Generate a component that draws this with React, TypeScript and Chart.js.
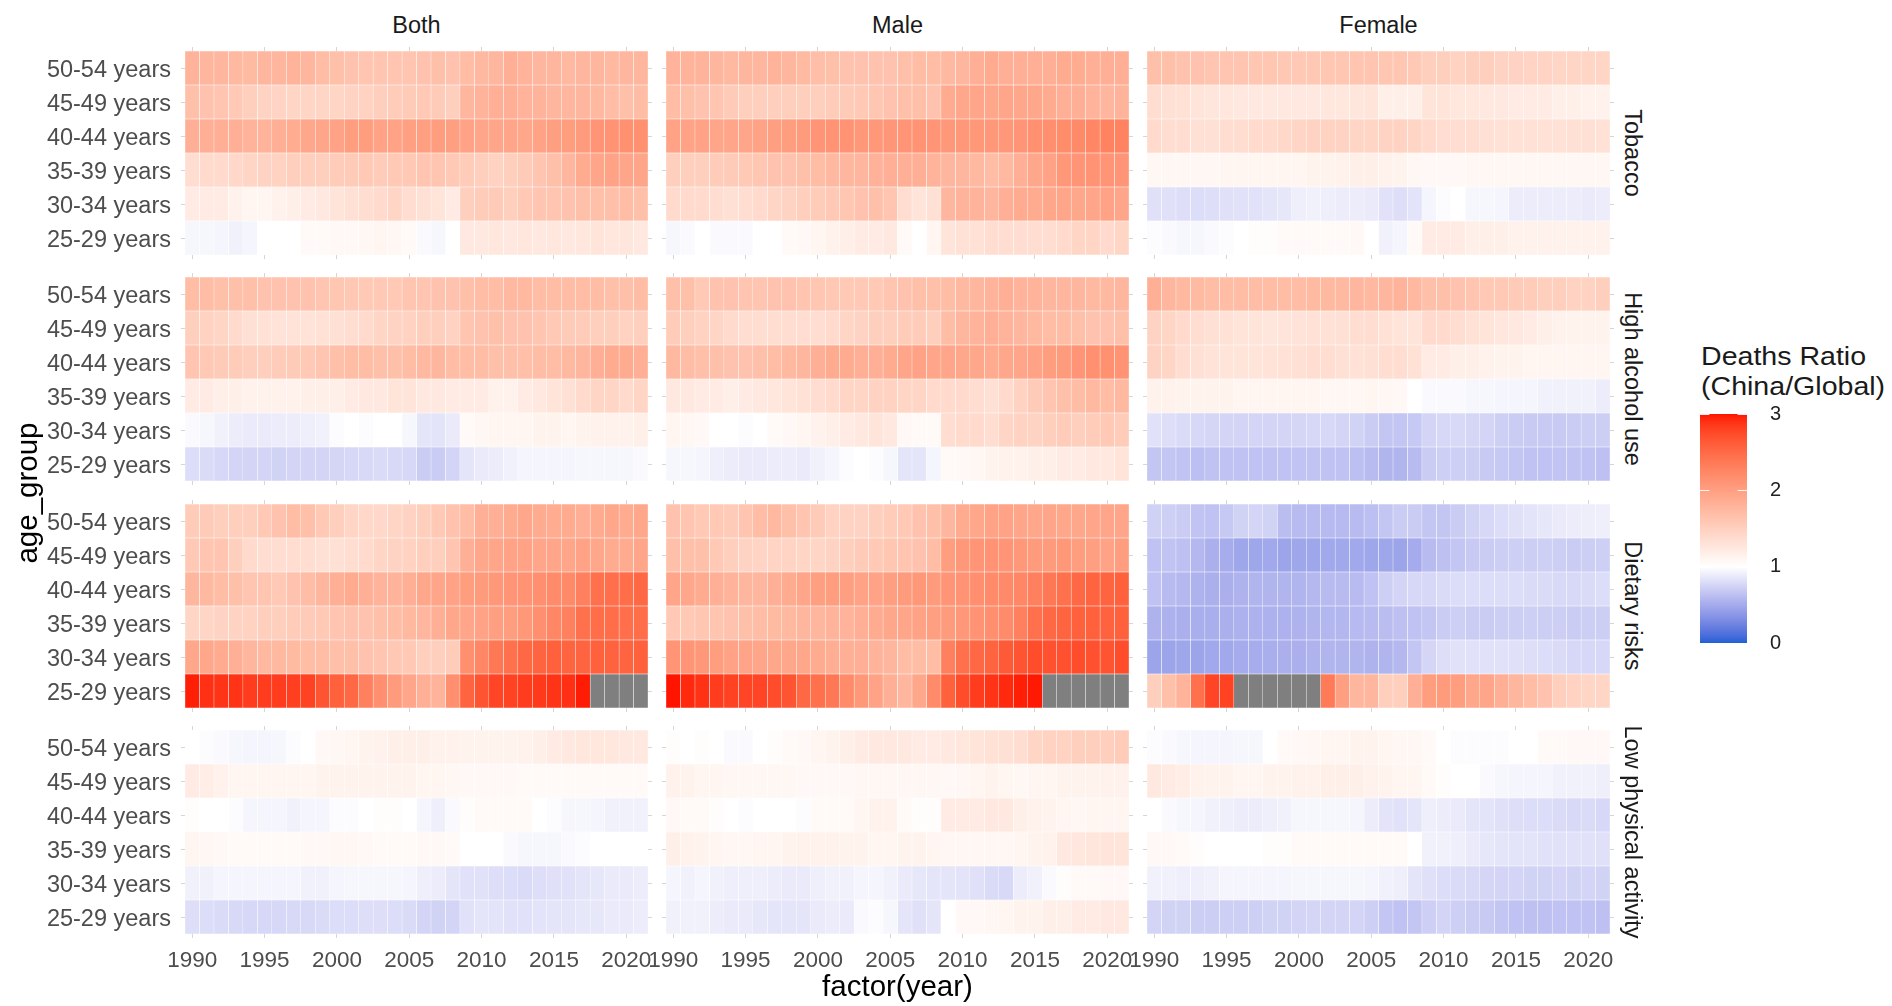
import React, { useEffect, useRef } from "react";
import { Chart, registerables } from "chart.js";

Chart.register(...registerables);

// ---------------- data ----------------
const years = [1990, 1991, 1992, 1993, 1994, 1995, 1996, 1997, 1998, 1999, 2000, 2001, 2002, 2003, 2004, 2005,
  2006, 2007, 2008, 2009, 2010, 2011, 2012, 2013, 2014, 2015, 2016, 2017, 2018, 2019, 2020, 2021];
const yearTicks = [1990, 1995, 2000, 2005, 2010, 2015, 2020];
const ageGroups = ["50-54 years", "45-49 years", "40-44 years", "35-39 years", "30-34 years", "25-29 years"];
const sexes = ["Both", "Male", "Female"];
const factors = ["Tobacco", "High alcohol use", "Dietary risks", "Low physical activity"];
const legendTicks = [0, 1, 2, 3];

type Row = (number | null)[];

const tobaccoBoth: Row[] = [
  [1.8, 1.77, 1.77, 1.74, 1.73, 1.77, 1.77, 1.8, 1.77, 1.7, 1.67, 1.64, 1.61, 1.61, 1.61, 1.61, 1.64, 1.67, 1.64, 1.7, 1.74, 1.77, 1.84, 1.8, 1.77, 1.77, 1.74, 1.77, 1.77, 1.74, 1.77, 1.77],
  [1.67, 1.64, 1.61, 1.57, 1.51, 1.47, 1.46, 1.44, 1.44, 1.44, 1.44, 1.47, 1.48, 1.51, 1.54, 1.55, 1.57, 1.55, 1.51, 1.77, 1.8, 1.84, 1.84, 1.8, 1.8, 1.77, 1.77, 1.77, 1.74, 1.7, 1.67, 1.7],
  [1.84, 1.84, 1.84, 1.84, 1.8, 1.8, 1.84, 1.87, 1.92, 1.94, 1.97, 2.02, 2.02, 1.97, 1.97, 1.99, 2.0, 2.02, 2.0, 1.97, 1.94, 1.94, 1.94, 1.92, 1.97, 2.0, 2.02, 2.04, 2.1, 2.12, 2.14, 2.14],
  [1.36, 1.39, 1.39, 1.41, 1.44, 1.47, 1.48, 1.51, 1.51, 1.51, 1.54, 1.55, 1.57, 1.54, 1.57, 1.57, 1.61, 1.61, 1.57, 1.54, 1.51, 1.48, 1.51, 1.55, 1.61, 1.67, 1.77, 1.88, 1.94, 1.97, 1.94, 1.94],
  [1.21, 1.21, 1.21, 1.15, 1.11, 1.11, 1.15, 1.17, 1.21, 1.24, 1.29, 1.33, 1.36, 1.39, 1.44, 1.36, 1.33, 1.29, 1.21, 1.51, 1.54, 1.55, 1.51, 1.57, 1.61, 1.61, 1.64, 1.67, 1.67, 1.67, 1.7, 1.67],
  [0.95, 0.95, 0.94, 0.92, 0.94, 1.0, 1.0, 1.0, 1.05, 1.05, 1.07, 1.07, 1.09, 1.11, 1.09, 1.05, 0.97, 0.95, 1.0, 1.24, 1.24, 1.26, 1.24, 1.26, 1.24, 1.26, 1.24, 1.26, 1.29, 1.26, 1.27, 1.24],
];
const tobaccoMale: Row[] = [
  [1.8, 1.8, 1.8, 1.77, 1.74, 1.77, 1.77, 1.8, 1.77, 1.73, 1.69, 1.67, 1.64, 1.64, 1.64, 1.64, 1.67, 1.7, 1.7, 1.74, 1.77, 1.84, 1.88, 1.84, 1.84, 1.84, 1.84, 1.88, 1.87, 1.84, 1.84, 1.84],
  [1.7, 1.67, 1.64, 1.61, 1.55, 1.51, 1.51, 1.51, 1.51, 1.51, 1.51, 1.54, 1.55, 1.57, 1.6, 1.64, 1.67, 1.67, 1.64, 1.88, 1.92, 1.94, 1.92, 1.94, 1.92, 1.92, 1.88, 1.84, 1.84, 1.8, 1.77, 1.8],
  [1.97, 1.97, 1.97, 1.94, 1.94, 1.94, 1.97, 2.0, 2.02, 2.04, 2.1, 2.12, 2.12, 2.07, 2.07, 2.09, 2.1, 2.12, 2.1, 2.07, 2.07, 2.07, 2.07, 2.07, 2.1, 2.14, 2.16, 2.18, 2.21, 2.24, 2.28, 2.28],
  [1.51, 1.51, 1.51, 1.54, 1.55, 1.57, 1.6, 1.64, 1.64, 1.67, 1.7, 1.74, 1.77, 1.77, 1.81, 1.84, 1.84, 1.84, 1.8, 1.77, 1.77, 1.74, 1.7, 1.74, 1.84, 1.92, 1.97, 2.07, 2.1, 2.12, 2.1, 2.1],
  [1.39, 1.39, 1.39, 1.36, 1.33, 1.36, 1.39, 1.44, 1.47, 1.51, 1.54, 1.57, 1.6, 1.64, 1.67, 1.61, 1.36, 1.29, 1.33, 1.77, 1.8, 1.8, 1.77, 1.84, 1.88, 1.88, 1.92, 1.94, 1.92, 1.94, 1.97, 1.94],
  [0.95, 0.97, 1.0, 0.97, 0.97, 0.97, 1.0, 1.0, 1.05, 1.07, 1.11, 1.15, 1.17, 1.21, 1.21, 1.24, 1.05, 1.0, 1.11, 1.29, 1.32, 1.32, 1.36, 1.36, 1.36, 1.36, 1.36, 1.39, 1.44, 1.44, 1.39, 1.44],
];
const tobaccoFemale: Row[] = [
  [1.67, 1.67, 1.64, 1.64, 1.61, 1.61, 1.61, 1.6, 1.6, 1.58, 1.57, 1.58, 1.6, 1.6, 1.61, 1.61, 1.6, 1.6, 1.57, 1.51, 1.51, 1.48, 1.51, 1.51, 1.47, 1.47, 1.46, 1.46, 1.44, 1.44, 1.44, 1.44],
  [1.36, 1.33, 1.32, 1.29, 1.27, 1.26, 1.24, 1.24, 1.24, 1.24, 1.24, 1.24, 1.26, 1.26, 1.27, 1.29, 1.17, 1.17, 1.17, 1.29, 1.29, 1.26, 1.26, 1.24, 1.24, 1.21, 1.21, 1.21, 1.17, 1.17, 1.15, 1.15],
  [1.39, 1.36, 1.36, 1.33, 1.33, 1.36, 1.36, 1.39, 1.39, 1.41, 1.44, 1.47, 1.48, 1.47, 1.44, 1.44, 1.47, 1.48, 1.44, 1.39, 1.36, 1.36, 1.36, 1.33, 1.32, 1.32, 1.32, 1.32, 1.32, 1.33, 1.33, 1.32],
  [1.09, 1.09, 1.09, 1.09, 1.09, 1.11, 1.11, 1.11, 1.11, 1.11, 1.11, 1.13, 1.13, 1.15, 1.17, 1.17, 1.15, 1.13, 1.09, 1.07, 1.07, 1.07, 1.09, 1.09, 1.09, 1.09, 1.09, 1.09, 1.09, 1.09, 1.09, 1.09],
  [0.82, 0.82, 0.81, 0.8, 0.81, 0.82, 0.83, 0.83, 0.85, 0.86, 0.91, 0.92, 0.91, 0.89, 0.89, 0.88, 0.83, 0.81, 0.84, 0.94, 0.98, 1.0, 0.95, 0.95, 0.94, 0.89, 0.89, 0.89, 0.89, 0.89, 0.88, 0.89],
  [0.98, 0.97, 0.95, 0.95, 0.97, 0.98, 1.0, 1.02, 1.02, 1.05, 1.05, 1.05, 1.05, 1.05, 1.07, 1.0, 0.92, 0.94, 1.05, 1.21, 1.21, 1.21, 1.17, 1.17, 1.17, 1.15, 1.15, 1.15, 1.15, 1.15, 1.15, 1.15],
];

const alcoholBoth: Row[] = [
  [1.7, 1.7, 1.67, 1.67, 1.67, 1.64, 1.64, 1.64, 1.64, 1.61, 1.6, 1.58, 1.57, 1.57, 1.57, 1.61, 1.61, 1.64, 1.64, 1.67, 1.7, 1.7, 1.74, 1.74, 1.7, 1.7, 1.7, 1.7, 1.7, 1.67, 1.67, 1.7],
  [1.51, 1.48, 1.44, 1.39, 1.33, 1.32, 1.3, 1.3, 1.3, 1.32, 1.33, 1.36, 1.39, 1.44, 1.47, 1.48, 1.51, 1.51, 1.48, 1.61, 1.64, 1.67, 1.64, 1.64, 1.61, 1.57, 1.55, 1.54, 1.51, 1.51, 1.48, 1.51],
  [1.61, 1.57, 1.55, 1.54, 1.51, 1.51, 1.54, 1.55, 1.57, 1.61, 1.67, 1.7, 1.7, 1.67, 1.67, 1.7, 1.74, 1.77, 1.7, 1.7, 1.7, 1.67, 1.67, 1.68, 1.7, 1.7, 1.74, 1.77, 1.84, 1.88, 1.88, 1.84],
  [1.21, 1.21, 1.17, 1.17, 1.15, 1.15, 1.15, 1.15, 1.17, 1.17, 1.17, 1.21, 1.24, 1.24, 1.29, 1.29, 1.24, 1.24, 1.21, 1.21, 1.21, 1.15, 1.15, 1.21, 1.24, 1.29, 1.33, 1.39, 1.44, 1.44, 1.39, 1.44],
  [0.97, 0.95, 0.92, 0.89, 0.88, 0.88, 0.89, 0.89, 0.91, 0.92, 0.98, 1.0, 0.98, 1.0, 1.0, 0.95, 0.85, 0.84, 0.88, 1.05, 1.09, 1.11, 1.11, 1.11, 1.13, 1.13, 1.11, 1.13, 1.15, 1.15, 1.15, 1.17],
  [0.8, 0.79, 0.77, 0.75, 0.75, 0.75, 0.74, 0.75, 0.75, 0.75, 0.76, 0.77, 0.78, 0.79, 0.78, 0.77, 0.7, 0.7, 0.75, 0.85, 0.88, 0.89, 0.92, 0.94, 0.94, 0.94, 0.94, 0.95, 0.95, 0.95, 0.95, 0.97],
];
const alcoholMale: Row[] = [
  [1.67, 1.67, 1.57, 1.64, 1.64, 1.61, 1.61, 1.64, 1.64, 1.61, 1.6, 1.58, 1.57, 1.57, 1.57, 1.61, 1.64, 1.67, 1.67, 1.7, 1.74, 1.77, 1.8, 1.84, 1.8, 1.8, 1.77, 1.77, 1.77, 1.74, 1.74, 1.77],
  [1.54, 1.51, 1.48, 1.44, 1.39, 1.36, 1.36, 1.36, 1.36, 1.36, 1.36, 1.39, 1.44, 1.47, 1.51, 1.51, 1.54, 1.54, 1.51, 1.7, 1.77, 1.8, 1.84, 1.8, 1.77, 1.74, 1.7, 1.7, 1.67, 1.64, 1.64, 1.67],
  [1.74, 1.7, 1.68, 1.67, 1.64, 1.64, 1.67, 1.7, 1.74, 1.77, 1.84, 1.88, 1.88, 1.84, 1.84, 1.88, 1.94, 1.97, 1.94, 1.94, 1.92, 1.92, 1.88, 1.92, 1.94, 1.97, 2.02, 2.04, 2.1, 2.14, 2.14, 2.12],
  [1.24, 1.24, 1.21, 1.21, 1.17, 1.21, 1.24, 1.26, 1.29, 1.32, 1.36, 1.39, 1.44, 1.44, 1.48, 1.48, 1.44, 1.44, 1.39, 1.39, 1.39, 1.36, 1.33, 1.39, 1.48, 1.55, 1.61, 1.67, 1.7, 1.74, 1.7, 1.74],
  [1.11, 1.09, 1.07, 1.0, 1.0, 0.98, 1.0, 1.05, 1.07, 1.11, 1.15, 1.17, 1.21, 1.24, 1.29, 1.24, 1.07, 1.05, 1.05, 1.36, 1.39, 1.39, 1.36, 1.44, 1.48, 1.47, 1.51, 1.54, 1.51, 1.54, 1.57, 1.54],
  [0.95, 0.95, 0.94, 0.91, 0.89, 0.88, 0.88, 0.89, 0.89, 0.88, 0.92, 0.94, 0.98, 1.0, 0.98, 0.95, 0.85, 0.85, 0.94, 1.05, 1.07, 1.09, 1.13, 1.15, 1.15, 1.17, 1.17, 1.21, 1.21, 1.24, 1.24, 1.29],
];
const alcoholFemale: Row[] = [
  [1.84, 1.77, 1.74, 1.73, 1.7, 1.7, 1.7, 1.7, 1.7, 1.7, 1.7, 1.73, 1.74, 1.74, 1.77, 1.74, 1.77, 1.8, 1.74, 1.67, 1.67, 1.64, 1.61, 1.57, 1.57, 1.55, 1.54, 1.51, 1.51, 1.48, 1.48, 1.51],
  [1.47, 1.44, 1.39, 1.36, 1.33, 1.32, 1.29, 1.29, 1.27, 1.29, 1.3, 1.32, 1.32, 1.33, 1.36, 1.36, 1.32, 1.29, 1.29, 1.39, 1.39, 1.36, 1.32, 1.29, 1.26, 1.24, 1.21, 1.17, 1.15, 1.13, 1.13, 1.13],
  [1.47, 1.44, 1.36, 1.33, 1.3, 1.29, 1.29, 1.29, 1.3, 1.32, 1.33, 1.36, 1.36, 1.33, 1.32, 1.33, 1.36, 1.36, 1.32, 1.21, 1.21, 1.17, 1.17, 1.15, 1.13, 1.13, 1.11, 1.11, 1.11, 1.11, 1.11, 1.11],
  [1.15, 1.15, 1.13, 1.13, 1.13, 1.13, 1.11, 1.11, 1.11, 1.11, 1.11, 1.11, 1.09, 1.09, 1.09, 1.11, 1.09, 1.07, 1.0, 0.97, 0.97, 0.97, 0.95, 0.95, 0.94, 0.94, 0.94, 0.92, 0.92, 0.92, 0.92, 0.89],
  [0.83, 0.81, 0.79, 0.77, 0.76, 0.75, 0.75, 0.75, 0.75, 0.75, 0.76, 0.77, 0.77, 0.75, 0.74, 0.7, 0.66, 0.66, 0.68, 0.75, 0.77, 0.78, 0.76, 0.75, 0.72, 0.7, 0.69, 0.69, 0.69, 0.7, 0.71, 0.71],
  [0.66, 0.66, 0.65, 0.62, 0.64, 0.64, 0.64, 0.64, 0.64, 0.64, 0.65, 0.65, 0.64, 0.64, 0.62, 0.6, 0.56, 0.56, 0.6, 0.7, 0.72, 0.72, 0.71, 0.69, 0.68, 0.66, 0.64, 0.64, 0.65, 0.65, 0.64, 0.63],
];

const dietaryBoth: Row[] = [
  [1.54, 1.55, 1.51, 1.51, 1.51, 1.57, 1.64, 1.7, 1.67, 1.57, 1.51, 1.44, 1.41, 1.41, 1.44, 1.47, 1.51, 1.57, 1.64, 1.7, 1.84, 1.84, 1.88, 1.92, 1.88, 1.87, 1.88, 1.84, 1.88, 1.92, 1.88, 1.92],
  [1.57, 1.61, 1.61, 1.51, 1.39, 1.36, 1.36, 1.36, 1.36, 1.33, 1.33, 1.36, 1.39, 1.44, 1.47, 1.48, 1.51, 1.51, 1.61, 1.84, 1.92, 1.94, 1.97, 1.97, 1.94, 1.94, 1.94, 1.97, 1.92, 1.88, 1.88, 1.94],
  [1.77, 1.74, 1.7, 1.67, 1.61, 1.61, 1.57, 1.64, 1.7, 1.77, 1.84, 1.88, 1.84, 1.8, 1.8, 1.84, 1.92, 1.94, 1.97, 2.02, 2.04, 2.07, 2.1, 2.12, 2.16, 2.2, 2.21, 2.3, 2.45, 2.46, 2.48, 2.52],
  [1.44, 1.44, 1.47, 1.47, 1.48, 1.51, 1.51, 1.54, 1.55, 1.57, 1.61, 1.64, 1.64, 1.67, 1.7, 1.74, 1.77, 1.84, 1.92, 1.94, 1.97, 2.0, 2.02, 2.07, 2.16, 2.24, 2.3, 2.45, 2.48, 2.48, 2.46, 2.48],
  [1.92, 1.92, 1.88, 1.84, 1.77, 1.74, 1.74, 1.73, 1.7, 1.7, 1.68, 1.67, 1.64, 1.61, 1.58, 1.57, 1.51, 1.51, 1.54, 2.16, 2.24, 2.38, 2.45, 2.52, 2.55, 2.58, 2.55, 2.55, 2.58, 2.57, 2.55, 2.58],
  [2.97, 2.9, 2.88, 2.88, 2.84, 2.83, 2.83, 2.82, 2.8, 2.68, 2.58, 2.52, 2.3, 2.16, 2.04, 1.94, 1.84, 1.8, 2.16, 2.55, 2.68, 2.78, 2.8, 2.83, 2.85, 2.88, 2.9, 2.98, null, null, null, null],
];
const dietaryMale: Row[] = [
  [1.64, 1.61, 1.57, 1.57, 1.55, 1.61, 1.7, 1.74, 1.67, 1.61, 1.55, 1.48, 1.47, 1.47, 1.51, 1.54, 1.57, 1.64, 1.67, 1.77, 1.88, 1.92, 1.97, 1.97, 1.94, 1.92, 1.94, 1.92, 1.92, 1.94, 1.94, 1.94],
  [1.67, 1.67, 1.67, 1.57, 1.51, 1.47, 1.46, 1.46, 1.46, 1.44, 1.44, 1.47, 1.51, 1.55, 1.57, 1.6, 1.61, 1.64, 1.7, 2.02, 2.07, 2.1, 2.12, 2.1, 2.07, 2.04, 2.04, 2.07, 2.02, 2.0, 1.97, 2.02],
  [1.94, 1.92, 1.88, 1.84, 1.8, 1.77, 1.77, 1.84, 1.88, 1.94, 2.0, 2.02, 2.0, 1.97, 1.97, 2.0, 2.04, 2.07, 2.04, 2.1, 2.12, 2.16, 2.2, 2.21, 2.24, 2.3, 2.38, 2.45, 2.52, 2.55, 2.55, 2.58],
  [1.57, 1.57, 1.6, 1.61, 1.64, 1.67, 1.7, 1.73, 1.74, 1.77, 1.77, 1.8, 1.8, 1.84, 1.88, 1.92, 1.94, 1.97, 2.0, 2.04, 2.07, 2.12, 2.16, 2.2, 2.3, 2.45, 2.52, 2.55, 2.58, 2.58, 2.57, 2.58],
  [2.1, 2.1, 2.07, 2.02, 1.97, 1.95, 1.94, 1.92, 1.92, 1.92, 1.88, 1.85, 1.84, 1.84, 1.8, 1.77, 1.7, 1.7, 1.7, 2.3, 2.45, 2.52, 2.55, 2.63, 2.68, 2.73, 2.7, 2.7, 2.73, 2.7, 2.68, 2.73],
  [3.0, 2.93, 2.89, 2.84, 2.8, 2.78, 2.78, 2.73, 2.68, 2.52, 2.45, 2.38, 2.2, 2.07, 1.97, 1.84, 1.77, 1.92, 2.2, 2.58, 2.73, 2.83, 2.88, 2.93, 2.97, 2.99, null, null, null, null, null, null],
];
const dietaryFemale: Row[] = [
  [0.73, 0.72, 0.7, 0.65, 0.64, 0.68, 0.74, 0.75, 0.74, 0.61, 0.6, 0.6, 0.59, 0.59, 0.6, 0.62, 0.66, 0.7, 0.7, 0.66, 0.66, 0.7, 0.74, 0.77, 0.8, 0.82, 0.84, 0.86, 0.88, 0.89, 0.9, 0.91],
  [0.64, 0.65, 0.63, 0.58, 0.53, 0.51, 0.47, 0.47, 0.48, 0.46, 0.47, 0.47, 0.48, 0.48, 0.48, 0.47, 0.47, 0.46, 0.5, 0.6, 0.63, 0.66, 0.69, 0.7, 0.71, 0.72, 0.71, 0.72, 0.71, 0.7, 0.71, 0.72],
  [0.64, 0.6, 0.58, 0.55, 0.53, 0.53, 0.55, 0.56, 0.56, 0.56, 0.56, 0.58, 0.6, 0.6, 0.6, 0.64, 0.72, 0.75, 0.77, 0.77, 0.79, 0.8, 0.8, 0.8, 0.8, 0.8, 0.79, 0.79, 0.78, 0.78, 0.79, 0.8],
  [0.55, 0.54, 0.53, 0.52, 0.52, 0.53, 0.54, 0.54, 0.54, 0.54, 0.55, 0.56, 0.57, 0.57, 0.59, 0.6, 0.61, 0.63, 0.64, 0.66, 0.7, 0.72, 0.7, 0.7, 0.71, 0.71, 0.72, 0.71, 0.71, 0.7, 0.71, 0.71],
  [0.46, 0.46, 0.47, 0.46, 0.48, 0.48, 0.5, 0.51, 0.52, 0.53, 0.53, 0.55, 0.56, 0.56, 0.56, 0.55, 0.56, 0.58, 0.66, 0.76, 0.81, 0.83, 0.83, 0.83, 0.83, 0.82, 0.81, 0.8, 0.79, 0.77, 0.77, 0.77],
  [1.51, 1.67, 1.8, 2.45, 2.78, 2.8, null, null, null, null, null, null, 2.35, 2.0, 1.77, 1.77, 1.51, 1.51, 1.84, 2.02, 2.04, 2.02, 1.92, 1.94, 1.84, 1.77, 1.7, 1.64, 1.51, 1.48, 1.44, 1.44],
];

const activityBoth: Row[] = [
  [1.0, 0.98, 0.97, 0.95, 0.94, 0.94, 0.95, 0.98, 1.0, 1.07, 1.09, 1.11, 1.13, 1.15, 1.17, 1.17, 1.17, 1.15, 1.15, 1.13, 1.13, 1.13, 1.13, 1.15, 1.17, 1.21, 1.24, 1.26, 1.26, 1.26, 1.24, 1.24],
  [1.21, 1.19, 1.15, 1.11, 1.11, 1.11, 1.11, 1.11, 1.11, 1.13, 1.13, 1.13, 1.13, 1.13, 1.13, 1.13, 1.11, 1.11, 1.09, 1.07, 1.07, 1.07, 1.07, 1.05, 1.05, 1.05, 1.05, 1.05, 1.05, 1.05, 1.05, 1.05],
  [1.02, 1.0, 1.0, 0.98, 0.94, 0.94, 0.94, 0.92, 0.94, 0.94, 0.98, 0.98, 1.0, 1.02, 1.02, 1.0, 0.94, 0.91, 0.97, 1.02, 1.05, 1.05, 1.05, 1.05, 1.0, 0.98, 0.95, 0.95, 0.94, 0.92, 0.92, 0.92],
  [1.11, 1.09, 1.07, 1.05, 1.05, 1.05, 1.05, 1.05, 1.07, 1.07, 1.09, 1.09, 1.07, 1.05, 1.05, 1.05, 1.07, 1.07, 1.05, 1.0, 1.0, 1.0, 0.97, 0.95, 0.95, 0.95, 0.97, 0.98, 1.0, 1.0, 1.0, 1.0],
  [0.92, 0.92, 0.94, 0.94, 0.94, 0.94, 0.94, 0.94, 0.92, 0.92, 0.94, 0.95, 0.95, 0.95, 0.95, 0.94, 0.91, 0.89, 0.85, 0.83, 0.83, 0.81, 0.8, 0.79, 0.81, 0.82, 0.83, 0.85, 0.86, 0.88, 0.88, 0.89],
  [0.81, 0.8, 0.79, 0.78, 0.77, 0.77, 0.77, 0.78, 0.78, 0.79, 0.8, 0.8, 0.81, 0.81, 0.8, 0.79, 0.75, 0.74, 0.75, 0.83, 0.85, 0.84, 0.83, 0.83, 0.84, 0.85, 0.85, 0.86, 0.86, 0.88, 0.88, 0.89],
];
const activityMale: Row[] = [
  [1.02, 1.0, 1.02, 1.0, 0.97, 0.97, 1.0, 1.02, 1.05, 1.07, 1.11, 1.13, 1.17, 1.21, 1.24, 1.24, 1.24, 1.21, 1.21, 1.24, 1.26, 1.29, 1.32, 1.33, 1.36, 1.44, 1.48, 1.48, 1.51, 1.51, 1.51, 1.54],
  [1.15, 1.13, 1.11, 1.11, 1.09, 1.09, 1.09, 1.09, 1.09, 1.07, 1.07, 1.07, 1.07, 1.09, 1.09, 1.09, 1.09, 1.09, 1.09, 1.07, 1.09, 1.11, 1.13, 1.11, 1.09, 1.11, 1.11, 1.13, 1.13, 1.13, 1.15, 1.15],
  [1.07, 1.05, 1.05, 1.02, 1.0, 0.98, 1.0, 1.0, 1.0, 0.98, 1.05, 1.05, 1.05, 1.11, 1.15, 1.15, 1.05, 1.02, 1.02, 1.21, 1.21, 1.21, 1.24, 1.24, 1.17, 1.15, 1.13, 1.11, 1.09, 1.11, 1.11, 1.11],
  [1.17, 1.15, 1.13, 1.11, 1.09, 1.09, 1.11, 1.11, 1.13, 1.15, 1.15, 1.15, 1.13, 1.13, 1.11, 1.11, 1.13, 1.13, 1.11, 1.09, 1.09, 1.09, 1.09, 1.09, 1.11, 1.13, 1.15, 1.24, 1.26, 1.27, 1.29, 1.29],
  [0.94, 0.92, 0.94, 0.92, 0.91, 0.91, 0.91, 0.89, 0.88, 0.88, 0.91, 0.92, 0.92, 0.94, 0.94, 0.92, 0.88, 0.86, 0.85, 0.85, 0.84, 0.82, 0.79, 0.78, 0.89, 0.92, 0.97, 1.02, 1.05, 1.05, 1.07, 1.07],
  [0.92, 0.92, 0.92, 0.89, 0.88, 0.88, 0.86, 0.85, 0.85, 0.85, 0.88, 0.89, 0.88, 0.97, 0.98, 0.95, 0.85, 0.82, 0.85, 1.0, 1.07, 1.07, 1.09, 1.11, 1.13, 1.13, 1.17, 1.17, 1.21, 1.21, 1.24, 1.24],
];
const activityFemale: Row[] = [
  [0.98, 0.97, 0.95, 0.94, 0.94, 0.94, 0.95, 0.95, 1.0, 1.05, 1.07, 1.09, 1.11, 1.11, 1.13, 1.13, 1.11, 1.09, 1.09, 1.05, 1.0, 0.98, 0.98, 0.98, 0.98, 1.0, 1.0, 1.05, 1.05, 1.07, 1.07, 1.07],
  [1.24, 1.21, 1.19, 1.15, 1.13, 1.13, 1.11, 1.11, 1.13, 1.13, 1.15, 1.15, 1.17, 1.17, 1.17, 1.15, 1.13, 1.11, 1.11, 1.05, 1.02, 1.0, 1.0, 0.97, 0.95, 0.94, 0.94, 0.94, 0.92, 0.92, 0.92, 0.91],
  [1.0, 0.97, 0.95, 0.94, 0.92, 0.91, 0.89, 0.89, 0.91, 0.92, 0.95, 0.95, 0.95, 0.95, 0.94, 0.89, 0.84, 0.83, 0.85, 0.91, 0.89, 0.88, 0.85, 0.84, 0.82, 0.81, 0.8, 0.8, 0.79, 0.78, 0.79, 0.77],
  [1.07, 1.07, 1.05, 1.02, 1.0, 1.0, 1.0, 1.0, 1.02, 1.02, 1.05, 1.05, 1.05, 1.05, 1.05, 1.05, 1.05, 1.05, 1.0, 0.92, 0.92, 0.91, 0.88, 0.86, 0.85, 0.84, 0.84, 0.83, 0.83, 0.83, 0.83, 0.82],
  [0.92, 0.92, 0.91, 0.91, 0.92, 0.94, 0.94, 0.94, 0.94, 0.94, 0.95, 0.95, 0.95, 0.95, 0.95, 0.94, 0.92, 0.91, 0.85, 0.82, 0.8, 0.79, 0.78, 0.76, 0.75, 0.75, 0.74, 0.74, 0.75, 0.74, 0.75, 0.74],
  [0.75, 0.74, 0.74, 0.71, 0.71, 0.72, 0.72, 0.72, 0.74, 0.74, 0.75, 0.76, 0.75, 0.75, 0.75, 0.72, 0.66, 0.64, 0.66, 0.72, 0.75, 0.72, 0.7, 0.69, 0.66, 0.64, 0.63, 0.63, 0.64, 0.64, 0.64, 0.63],
];

const panelRows: Row[][][] = [
  [tobaccoBoth, tobaccoMale, tobaccoFemale],
  [alcoholBoth, alcoholMale, alcoholFemale],
  [dietaryBoth, dietaryMale, dietaryFemale],
  [activityBoth, activityMale, activityFemale],
];

// ---------------- colour scale (Lab interpolation, low-mid-high) ----------------
const LOW_RGB = [30, 96, 214];
const MID_RGB = [255, 255, 255];
const HIGH_RGB = [255, 20, 0];
const NA_COLOR = "#7F7F7F";

function toLin(c: number) {
  const s = c / 255;
  return s <= 0.04045 ? s / 12.92 : Math.pow((s + 0.055) / 1.055, 2.4);
}
function toSrgb(c: number) {
  const v = c <= 0.0031308 ? 12.92 * c : 1.055 * Math.pow(c, 1 / 2.4) - 0.055;
  return Math.round(Math.min(1, Math.max(0, v)) * 255);
}
function rgbToLab(rgb: number[]) {
  const [r, g, b] = rgb.map(toLin);
  const x = (r * 0.4124 + g * 0.3576 + b * 0.1805) / 0.95047;
  const y = r * 0.2126 + g * 0.7152 + b * 0.0722;
  const z = (r * 0.0193 + g * 0.1192 + b * 0.9505) / 1.08883;
  const f = (t: number) => (t > 0.008856 ? Math.cbrt(t) : 7.787 * t + 16 / 116);
  const fx = f(x), fy = f(y), fz = f(z);
  return [116 * fy - 16, 500 * (fx - fy), 200 * (fy - fz)];
}
function labToRgb(lab: number[]) {
  const [L, a, bb] = lab;
  const fy = (L + 16) / 116, fx = fy + a / 500, fz = fy - bb / 200;
  const inv = (t: number) => (t * t * t > 0.008856 ? t * t * t : (t - 16 / 116) / 7.787);
  const x = inv(fx) * 0.95047, y = inv(fy), z = inv(fz) * 1.08883;
  const r = 3.2406 * x - 1.5372 * y - 0.4986 * z;
  const g = -0.9689 * x + 1.8758 * y + 0.0415 * z;
  const b = 0.0557 * x - 0.204 * y + 1.057 * z;
  return [toSrgb(r), toSrgb(g), toSrgb(b)];
}
const LOW_LAB = rgbToLab(LOW_RGB);
const MID_LAB = rgbToLab(MID_RGB);
const HIGH_LAB = rgbToLab(HIGH_RGB);

function colorOf(v: number | null): string {
  if (v === null || v === undefined) return NA_COLOR;
  const c = Math.max(0, Math.min(3, v));
  let target: number[], t: number;
  if (c >= 1) { target = HIGH_LAB; t = (c - 1) / 2; } else { target = LOW_LAB; t = 1 - c; }
  const lab = MID_LAB.map((m, i) => m + (target[i] - m) * t);
  const [r, g, b] = labToRgb(lab);
  return `rgb(${r},${g},${b})`;
}

// ---------------- layout ----------------
const FONT = "'Liberation Sans', Arial, Helvetica, sans-serif";
const PANEL_LEFT = [185, 666, 1147];
const PANEL_TOP = [51, 277, 504, 730];
const PW = 463;
const PH = 204;
const STUB = "#D6D6D6";

function zeroPad(s: any) {
  s.paddingTop = 0; s.paddingBottom = 0; s.paddingLeft = 0; s.paddingRight = 0;
}

function Panel({ values, col, row }: { values: Row[]; col: number; row: number }) {
  const ref = useRef<HTMLCanvasElement>(null);
  const LW = col === 0 ? 175 : 40;
  const RW = 6;
  const TH = 6;
  const BH = row === 3 ? 52 : 6;
  const W = LW + PW + RW;
  const H = TH + PH + BH;
  useEffect(() => {
    if (!ref.current) return;
    const chart = new Chart(ref.current, {
      type: "bar",
      data: {
        labels: ageGroups,
        datasets: years.map((yr, yi) => ({
          label: String(yr),
          data: ageGroups.map(() => [yr - 0.5, yr + 0.5]),
          backgroundColor: values.map((r) => colorOf(r[yi])),
          borderColor: "rgba(255,255,255,0.8)",
          borderWidth: 0.5,
          borderSkipped: false,
          grouped: false,
          barPercentage: 1,
          categoryPercentage: 1,
        })) as any,
      },
      options: {
        indexAxis: "y",
        responsive: false,
        animation: false,
        devicePixelRatio: 1,
        events: [],
        layout: { padding: 0 },
        plugins: { legend: { display: false }, tooltip: { enabled: false } },
        scales: {
          x: {
            type: "linear",
            position: "bottom",
            min: years[0] - 0.5,
            max: years[years.length - 1] + 0.5,
            afterBuildTicks: (s: any) => { s.ticks = yearTicks.map((v) => ({ value: v })); },
            afterFit: (s: any) => { s.height = BH; zeroPad(s); },
            grid: { drawOnChartArea: false, drawTicks: true, tickLength: 4, color: STUB, lineWidth: 1 },
            border: { display: false },
            ticks: {
              display: row === 3,
              autoSkip: false,
              maxRotation: 0,
              padding: 9,
              color: "#4D4D4D",
              font: { family: FONT, size: 22.5 },
              callback: (v: any) => String(v),
            },
          },
          xTop: {
            axis: "x",
            type: "linear",
            position: "top",
            min: years[0] - 0.5,
            max: years[years.length - 1] + 0.5,
            afterBuildTicks: (s: any) => { s.ticks = yearTicks.map((v) => ({ value: v })); },
            afterFit: (s: any) => { s.height = TH; zeroPad(s); },
            grid: { drawOnChartArea: false, drawTicks: true, tickLength: 4, color: STUB, lineWidth: 1 },
            border: { display: false },
            ticks: { display: false },
          },
          y: {
            type: "category",
            position: "left",
            offset: true,
            afterFit: (s: any) => { s.width = LW; zeroPad(s); },
            grid: { offset: false, drawOnChartArea: false, drawTicks: true, tickLength: 4, color: STUB, lineWidth: 1 },
            border: { display: false },
            ticks: {
              display: col === 0,
              padding: 10,
              labelOffset: 2.5,
              color: "#4D4D4D",
              font: { family: FONT, size: 23.5 },
            },
          },
          yRight: {
            axis: "y",
            type: "category",
            position: "right",
            labels: ageGroups,
            offset: true,
            afterFit: (s: any) => { s.width = RW; zeroPad(s); },
            grid: { offset: false, drawOnChartArea: false, drawTicks: true, tickLength: 4, color: STUB, lineWidth: 1 },
            border: { display: false },
            ticks: { display: false },
          },
        } as any,
      },
    });
    return () => chart.destroy();
  }, [values, col, row]);
  return (
    <canvas
      ref={ref}
      width={W}
      height={H}
      style={{ position: "absolute", left: PANEL_LEFT[col] - LW, top: PANEL_TOP[row] - TH, width: W, height: H }}
    />
  );
}

// ---------------- colour bar legend ----------------
const BAR_LEFT = 1700;
const BAR_TOP = 414;
const BAR_W = 47;
const BAR_H = 229;

function ColorBar() {
  const ref = useRef<HTMLCanvasElement>(null);
  const PAD = 15;
  const AXW = 120;
  const W = BAR_W + AXW;
  const H = BAR_H + 2 * PAD;
  useEffect(() => {
    if (!ref.current) return;
    const tickPlugin = {
      id: "barTicks",
      afterDatasetsDraw(chart: any) {
        const { ctx, chartArea } = chart;
        const ys = chart.scales.y;
        const len = (chartArea.right - chartArea.left) / 5;
        ctx.save();
        ctx.strokeStyle = "rgba(255,255,255,0.9)";
        ctx.lineWidth = 1;
        legendTicks.forEach((v) => {
          const py = Math.round(ys.getPixelForValue(v)) + 0.5;
          ctx.beginPath();
          ctx.moveTo(chartArea.left, py);
          ctx.lineTo(chartArea.left + len, py);
          ctx.moveTo(chartArea.right - len, py);
          ctx.lineTo(chartArea.right, py);
          ctx.stroke();
        });
        ctx.restore();
      },
    };
    const chart = new Chart(ref.current, {
      type: "bar",
      data: {
        labels: ["ratio"],
        datasets: [
          {
            data: [[legendTicks[0], legendTicks[legendTicks.length - 1]]] as any,
            backgroundColor: (c: any) => {
              const ch = c.chart;
              if (!ch.chartArea) return colorOf(1);
              const ys = ch.scales.y;
              const lo = legendTicks[0];
              const hi = legendTicks[legendTicks.length - 1];
              const g = ch.ctx.createLinearGradient(0, ys.getPixelForValue(lo), 0, ys.getPixelForValue(hi));
              for (let i = 0; i <= 60; i++) {
                const v = lo + ((hi - lo) * i) / 60;
                g.addColorStop(i / 60, colorOf(v));
              }
              return g;
            },
            borderWidth: 0,
            barPercentage: 1,
            categoryPercentage: 1,
          },
        ],
      },
      options: {
        responsive: false,
        animation: false,
        devicePixelRatio: 1,
        events: [],
        layout: { padding: { top: PAD, bottom: 0, left: 0, right: 0 } },
        plugins: { legend: { display: false }, tooltip: { enabled: false } },
        scales: {
          x: {
            type: "category",
            display: true,
            afterFit: (s: any) => { s.height = PAD; zeroPad(s); },
            grid: { display: false },
            border: { display: false },
            ticks: { display: false },
          },
          y: {
            type: "linear",
            position: "right",
            min: legendTicks[0],
            max: legendTicks[legendTicks.length - 1],
            afterBuildTicks: (s: any) => { s.ticks = legendTicks.map((v) => ({ value: v })); },
            afterFit: (s: any) => { s.width = AXW; zeroPad(s); },
            grid: { display: false },
            border: { display: false },
            ticks: { padding: 15, color: "#222222", font: { family: FONT, size: 20 }, callback: (v: any) => String(v) },
          },
        } as any,
      },
      plugins: [tickPlugin],
    });
    return () => chart.destroy();
  }, []);
  return (
    <canvas
      ref={ref}
      width={W}
      height={H}
      style={{ position: "absolute", left: BAR_LEFT, top: BAR_TOP - PAD, width: W, height: H }}
    />
  );
}

export default function App() {
  const text = (extra: React.CSSProperties): React.CSSProperties => ({
    position: "absolute",
    fontFamily: FONT,
    whiteSpace: "nowrap",
    ...extra,
  });
  return (
    <div
      style={{
        position: "absolute",
        left: 0,
        top: 0,
        width: 1892,
        height: 1006,
        overflow: "hidden",
        background: "#FFFFFF",
      }}
    >
      {panelRows.map((rowPanels, r) =>
        rowPanels.map((vals, c) => <Panel key={`${r}-${c}`} values={vals} col={c} row={r} />)
      )}
      {sexes.map((s, c) => (
        <div
          key={s}
          style={text({
            left: PANEL_LEFT[c],
            top: 12,
            width: PW,
            height: 26,
            lineHeight: "26px",
            fontSize: 23.5,
            color: "#1A1A1A",
            textAlign: "center",
          })}
        >
          {s}
        </div>
      ))}
      {factors.map((f, r) => (
        <div
          key={f}
          style={text({
            left: 1633 - 120,
            top: PANEL_TOP[r] + PH / 2 - 13,
            width: 240,
            height: 26,
            lineHeight: "26px",
            fontSize: 23.5,
            color: "#1A1A1A",
            textAlign: "center",
            transform: "rotate(90deg)",
          })}
        >
          {f}
        </div>
      ))}
      <div
        style={text({
          left: 27 - 100,
          top: 492.5 - 16,
          width: 200,
          height: 32,
          lineHeight: "32px",
          fontSize: 29.5,
          color: "#000000",
          textAlign: "center",
          transform: "rotate(-90deg)",
        })}
      >
        age_group
      </div>
      <div
        style={text({
          left: 897.5 - 150,
          top: 970,
          width: 300,
          height: 32,
          lineHeight: "32px",
          fontSize: 29.5,
          color: "#000000",
          textAlign: "center",
        })}
      >
        factor(year)
      </div>
      <div
        style={text({
          left: 1701,
          top: 341,
          lineHeight: "30px",
          fontSize: 25.5,
          color: "#1A1A1A",
          transform: "scaleX(1.12)",
          transformOrigin: "left top",
        })}
      >
        Deaths Ratio
        <br />
        (China/Global)
      </div>
      <ColorBar />
    </div>
  );
}
